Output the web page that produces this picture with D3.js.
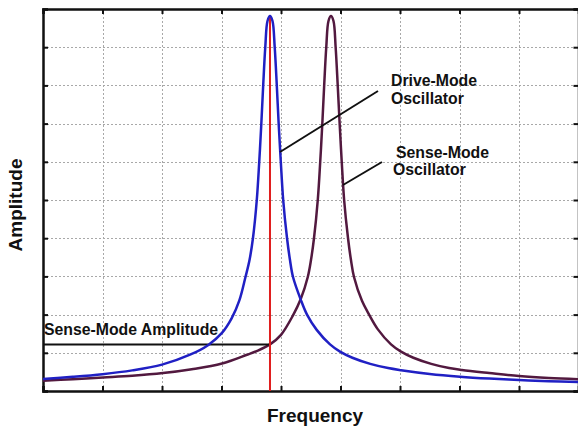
<!DOCTYPE html>
<html>
<head>
<meta charset="utf-8">
<script src="https://cdn.jsdelivr.net/npm/d3@7"></script>
<style>
  body { margin: 0; background: #fff; }
  svg { display: block; }
  text { font-family: "Liberation Sans", Arial, sans-serif; font-weight: bold; fill: #111; }
</style>
</head>
<body>
<div id="workspace"></div>
<script>
// drive-mode response (blue), frequency in grid units vs amplitude in grid units
var driveFreq = [0, 0.5, 1.0, 1.5, 2.0, 2.471, 2.773, 3.008, 3.17, 3.3, 3.403, 3.471, 3.529, 3.593, 3.634, 3.669, 3.701, 3.736, 3.773, 3.815,
                 3.857, 3.894, 3.929, 3.961, 3.997, 4.037, 4.101, 4.151, 4.202, 4.33, 4.437, 4.6, 4.824, 4.992, 5.2, 5.5, 5.8, 6.017, 6.5, 7.008, 7.5, 8.0, 8.5, 8.992];
var driveAmp  = [0.314, 0.37, 0.44, 0.54, 0.69, 0.95, 1.20, 1.52, 1.90, 2.37, 2.984, 3.429, 4.005, 5.0, 5.995, 6.99, 8.01, 9.005, 9.686, 9.817,
                 9.686, 9.005, 8.01, 6.99, 5.995, 5.0, 4.005, 3.429, 2.984, 2.40, 2.0, 1.60, 1.22, 1.03, 0.87, 0.71, 0.60, 0.545, 0.447, 0.376, 0.326, 0.287, 0.256, 0.236];

// sense-mode response (purple)
var senseFreq = [0, 0.5, 1.008, 1.5, 2.017, 2.5, 3.008, 3.429, 3.6, 3.815, 4.0, 4.202, 4.33, 4.45, 4.504, 4.555, 4.618, 4.659, 4.694, 4.726, 4.761, 4.798, 4.840,
                 4.882, 4.918, 4.953, 4.986, 5.021, 5.061, 5.126, 5.176, 5.227, 5.361, 5.48, 5.625, 5.849, 6.017, 6.225, 6.525, 6.825, 7.04, 7.5, 8.0, 8.5, 8.992];
var senseAmp  = [0.27, 0.31, 0.355, 0.40, 0.47, 0.57, 0.72, 0.95, 1.05, 1.22, 1.47, 1.98, 2.40, 2.984, 3.429, 4.005, 5.0, 5.995, 6.99, 8.01, 9.005, 9.686, 9.817,
                 9.686, 9.005, 8.01, 6.99, 5.995, 5.0, 4.005, 3.429, 2.984, 2.36, 2.0, 1.62, 1.22, 1.03, 0.87, 0.71, 0.60, 0.55, 0.47, 0.39, 0.34, 0.31];

// operating point: drive resonance and the sense amplitude it produces
var operatingFreq = 3.815;
var operatingPeak = 9.817;
var senseAtOperating = 1.22;

var xTicks = d3.range(0, 10);
var yTicks = d3.range(0, 11);

var W = 578, H = 430;
var x = d3.scaleLinear().domain([0, 9]).range([43, 578.5]);
var y = d3.scaleLinear().domain([0, 10]).range([391, 9]);
var px = v => Math.round(v) + 0.5;

var svg = d3.select("#workspace")
	.append("svg")
	.attr("width", W)
	.attr("height", H);

// dotted grid
svg.append("g").selectAll("line").data(xTicks.slice(1)).enter().append("line")
	.attr("x1", d => px(x(d))).attr("x2", d => px(x(d)))
	.attr("y1", y(0)).attr("y2", y(10))
	.attr("stroke", "#a8a8a8").attr("stroke-width", 1).attr("stroke-dasharray", "2,2");
svg.append("g").selectAll("line").data(yTicks.slice(1, -1)).enter().append("line")
	.attr("x1", x(0)).attr("x2", x(9))
	.attr("y1", d => px(y(d))).attr("y2", d => px(y(d)))
	.attr("stroke", "#a8a8a8").attr("stroke-width", 1).attr("stroke-dasharray", "2,2");

// inward ticks on all four sides, no labels
var axes = [
	d3.axisBottom(x).tickValues(xTicks).tickSize(-5),
	d3.axisTop(x).tickValues(xTicks).tickSize(-5),
	d3.axisLeft(y).tickValues(yTicks).tickSize(-5),
	d3.axisRight(y).tickValues(yTicks).tickSize(-5)
];
var shifts = ["translate(0," + y(0) + ")", "translate(0," + y(10) + ")", "translate(" + x(0) + ",0)", "translate(" + x(9) + ",0)"];
axes.forEach(function(a, i) {
	var g = svg.append("g").attr("transform", shifts[i]).call(a.tickFormat(""));
	g.select(".domain").attr("stroke", "#111").attr("stroke-width", 2.5);
	g.selectAll(".tick line").attr("stroke", "#111").attr("stroke-width", 2);
});

var line = d3.line()
	.x(d => x(d[0]))
	.y(d => y(d[1]))
	.curve(d3.curveCatmullRom.alpha(0.5));

// sense-mode curve
svg.append("path")
	.datum(d3.zip(senseFreq, senseAmp))
	.attr("d", line)
	.attr("fill", "none")
	.attr("stroke", "#52193f")
	.attr("stroke-width", 2.5);

// operating point markers
svg.append("line")
	.attr("x1", x(0)).attr("x2", x(operatingFreq))
	.attr("y1", y(senseAtOperating)).attr("y2", y(senseAtOperating))
	.attr("stroke", "#111").attr("stroke-width", 2);
svg.append("line")
	.attr("x1", x(operatingFreq)).attr("x2", x(operatingFreq))
	.attr("y1", y(0)).attr("y2", y(operatingPeak))
	.attr("stroke", "#e01e1e").attr("stroke-width", 2);

// drive-mode curve
svg.append("path")
	.datum(d3.zip(driveFreq, driveAmp))
	.attr("d", line)
	.attr("fill", "none")
	.attr("stroke", "#2020c4")
	.attr("stroke-width", 2.5);

// leader lines
var leaders = [[3.983, 6.257, 5.630, 7.853], [5.042, 5.393, 5.697, 5.995]];
svg.append("g").selectAll("line").data(leaders).enter().append("line")
	.attr("x1", d => x(d[0])).attr("y1", d => y(d[1]))
	.attr("x2", d => x(d[2])).attr("y2", d => y(d[3]))
	.attr("stroke", "#111").attr("stroke-width", 2);

// annotation text
var notes = [
	["Drive-Mode", 391, 86], ["Oscillator", 391, 104],
	["Sense-Mode", 396, 158], ["Oscillator", 393, 175],
	["Sense-Mode Amplitude", 44, 335]
];
svg.append("g").selectAll("text").data(notes).enter().append("text")
	.attr("x", d => d[1]).attr("y", d => d[2])
	.attr("font-size", "15.8px")
	.text(d => d[0]);

// axis titles
svg.append("text")
	.attr("x", 315).attr("y", 422)
	.attr("text-anchor", "middle")
	.attr("font-size", "19px")
	.text("Frequency");
svg.append("text")
	.attr("transform", "translate(22,205) rotate(-90)")
	.attr("text-anchor", "middle")
	.attr("font-size", "19px")
	.text("Amplitude");
</script>
</body>
</html>
